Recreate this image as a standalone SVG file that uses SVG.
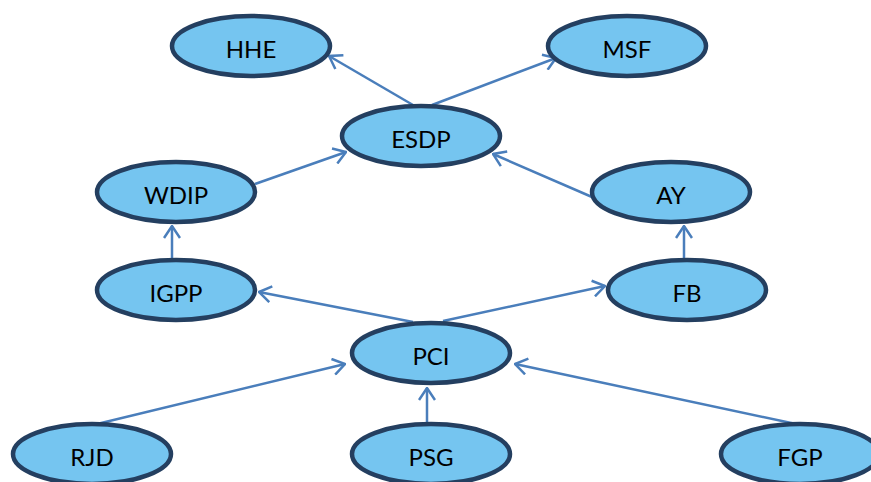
<svg xmlns="http://www.w3.org/2000/svg" width="871" height="482" viewBox="0 0 871 482">
<style>
.n ellipse{fill:#75C5F0;stroke:#243F60;stroke-width:4.5}
.n text{font-family:Lato,"Liberation Sans",Arial,sans-serif;font-size:24px;fill:#000;text-anchor:middle}
.e line{stroke:#4A7EBB;stroke-width:2.5;fill:none;marker-end:url(#a)}
</style>
<defs>
<marker id="a" markerUnits="userSpaceOnUse" viewBox="0 0 14 18" refX="13" refY="9" markerWidth="14" markerHeight="18" orient="auto">
<path d="M1,1 L13,9 L1,17" fill="none" stroke="#4A7EBB" stroke-width="2.5"/>
</marker>
</defs>
<g class="e" id="connectors">
<line x1="413" y1="105" x2="329" y2="56"/>
<line x1="432" y1="105" x2="556" y2="58"/>
<line x1="255" y1="184" x2="346" y2="152"/>
<line x1="592" y1="197" x2="493" y2="154"/>
<line x1="172" y1="258" x2="172" y2="226"/>
<line x1="684" y1="258" x2="684" y2="226"/>
<line x1="413" y1="322" x2="259" y2="292"/>
<line x1="443" y1="321" x2="605" y2="286"/>
<line x1="97" y1="424" x2="345" y2="364"/>
<line x1="427" y1="422" x2="427" y2="388"/>
<line x1="796" y1="424" x2="515" y2="364"/>
</g>
<g class="n" id="HHE"><ellipse cx="251" cy="46" rx="79" ry="30"/><text x="251" y="58">HHE</text></g>
<g class="n" id="MSF"><ellipse cx="627" cy="46" rx="79" ry="30"/><text x="627" y="58">MSF</text></g>
<g class="n" id="ESDP"><ellipse cx="421" cy="136" rx="79" ry="30"/><text x="421" y="148">ESDP</text></g>
<g class="n" id="WDIP"><ellipse cx="176" cy="192" rx="79" ry="30"/><text x="176" y="204">WDIP</text></g>
<g class="n" id="AY"><ellipse cx="671" cy="192" rx="79" ry="30"/><text x="671" y="204">AY</text></g>
<g class="n" id="IGPP"><ellipse cx="176" cy="290" rx="79" ry="30"/><text x="176" y="302">IGPP</text></g>
<g class="n" id="FB"><ellipse cx="687" cy="290" rx="79" ry="30"/><text x="687" y="302">FB</text></g>
<g class="n" id="PCI"><ellipse cx="431" cy="353" rx="79" ry="30"/><text x="431" y="365">PCI</text></g>
<g class="n" id="RJD"><ellipse cx="92" cy="454" rx="79" ry="30"/><text x="92" y="466">RJD</text></g>
<g class="n" id="PSG"><ellipse cx="431" cy="454" rx="79" ry="30"/><text x="431" y="466">PSG</text></g>
<g class="n" id="FGP"><ellipse cx="800" cy="454" rx="79" ry="30"/><text x="800" y="466">FGP</text></g>
</svg>
